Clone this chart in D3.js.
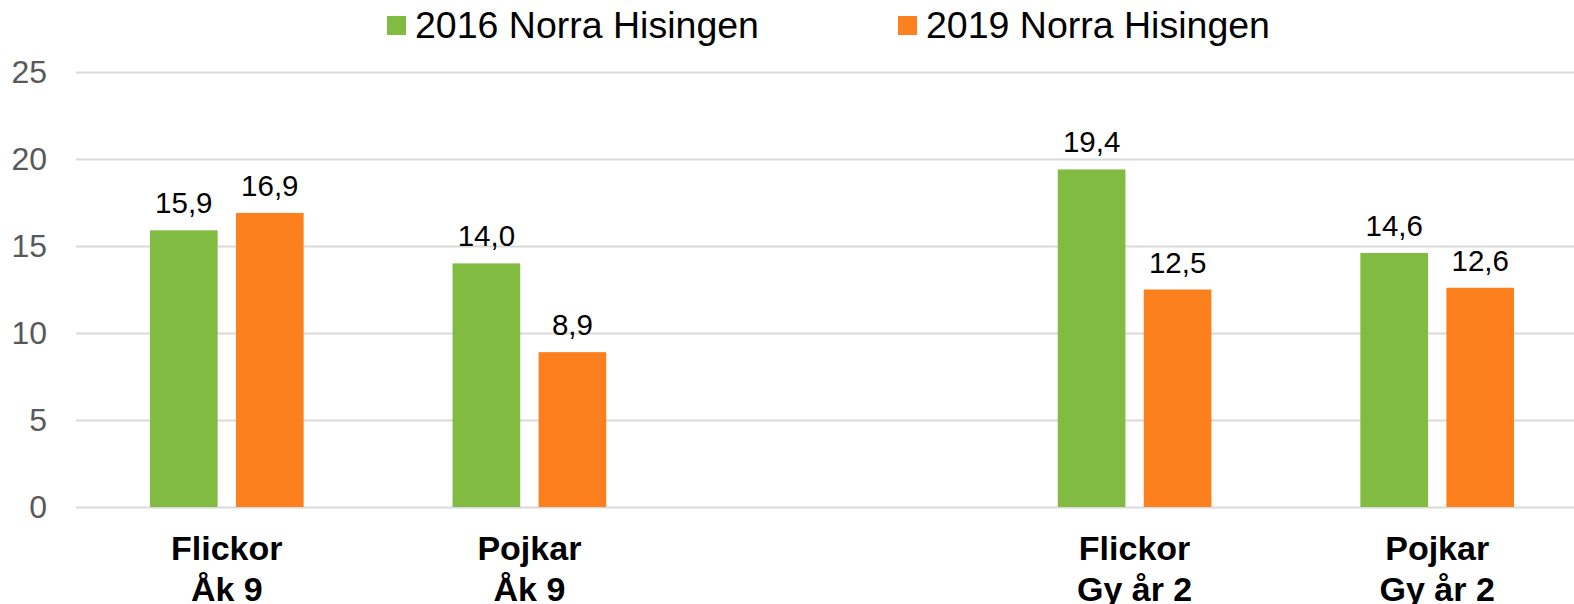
<!DOCTYPE html>
<html>
<head>
<meta charset="utf-8">
<script src="https://cdn.jsdelivr.net/npm/d3@7"></script>
<style>
  body { margin: 0; background: #fff; }
  svg { display: block; font-family: "Liberation Sans", Arial, sans-serif; }
</style>
</head>
<body>
<div id="chart"></div>
<script>
// data
const catLine1 = ["Flickor", "Pojkar", "", "Flickor", "Pojkar"];
const catLine2 = ["Åk 9", "Åk 9", "", "Gy år 2", "Gy år 2"];
const seriesNames = ["2016 Norra Hisingen", "2019 Norra Hisingen"];
const values2016 = [15.9, 14.0, null, 19.4, 14.6];
const values2019 = [16.9, 8.9, null, 12.5, 12.6];
const yTicks = [0, 5, 10, 15, 20, 25];
const colors = ["#82bb42", "#fd801e"];

const W = 1574, H = 604;
const plot = {left: 75.5, right: 1588.5, top: 72, bottom: 507};

const sv = d3.formatLocale({decimal: ",", thousands: " ", grouping: [3], currency: ["", " kr"]});
const fmt = sv.format(".1f");

const rows = catLine1.map((c, i) => ({
  key: i,
  l1: c,
  l2: catLine2[i],
  vals: [values2016[i], values2019[i]]
}));

let svg = d3.select("#chart")
  .append("svg")
  .attr("width", W)
  .attr("height", H);

let x0 = d3.scaleBand()
  .domain(rows.map(d => d.key))
  .range([plot.left, plot.right])
  .padding(0);

let x1 = d3.scaleBand()
  .domain([0, 1])
  .range([0, x0.bandwidth()])
  .paddingInner(0.213)
  .paddingOuter(0.866);

let y = d3.scaleLinear()
  .domain([0, 25])
  .range([plot.bottom, plot.top]);

// gridlines + y labels
let yAxis = svg.append("g")
  .attr("transform", "translate(76,0)")
  .call(d3.axisLeft(y)
    .tickValues(yTicks)
    .tickSize(-(W - 76))
    .tickPadding(29)
    .tickFormat(d3.format("d")));
yAxis.select(".domain").remove();
yAxis.selectAll(".tick line")
  .attr("stroke", "#d9d9d9")
  .attr("stroke-width", 2);
yAxis.selectAll(".tick text")
  .attr("fill", "#595959")
  .style("font-size", "32px");

// bars
let groups = svg.append("g")
  .selectAll("g")
  .data(rows.filter(d => d.l1 !== ""))
  .join("g")
  .attr("transform", d => "translate(" + x0(d.key) + ",0)");

let cells = groups.selectAll("g")
  .data(d => d.vals.map((v, j) => ({v: v, j: j})))
  .join("g");

cells.append("rect")
  .attr("x", d => x1(d.j))
  .attr("y", d => y(d.v))
  .attr("width", x1.bandwidth())
  .attr("height", d => y(0) - y(d.v))
  .attr("fill", d => colors[d.j]);

cells.append("text")
  .attr("x", d => x1(d.j) + x1.bandwidth() / 2)
  .attr("y", d => y(d.v) - 17)
  .attr("text-anchor", "middle")
  .attr("fill", "#000")
  .style("font-size", "29.5px")
  .text(d => fmt(d.v));

// category labels (second line runs off the bottom edge, as in the original)
let cat = svg.append("g")
  .selectAll("text")
  .data(rows)
  .join("text")
  .attr("x", d => x0(d.key) + x0.bandwidth() / 2)
  .attr("y", 560)
  .attr("text-anchor", "middle")
  .attr("fill", "#000")
  .style("font-size", "34px")
  .style("font-weight", "bold");
cat.append("tspan").text(d => d.l1);
cat.append("tspan")
  .attr("x", d => x0(d.key) + x0.bandwidth() / 2)
  .attr("dy", 41)
  .text(d => d.l2);

// legend
const legendX = [387, 898];
let leg = svg.append("g")
  .selectAll("g")
  .data(seriesNames)
  .join("g")
  .attr("transform", (d, i) => "translate(" + legendX[i] + ",16)");
leg.append("rect")
  .attr("width", 19)
  .attr("height", 19)
  .attr("fill", (d, i) => colors[i]);
leg.append("text")
  .attr("x", 28)
  .attr("y", 22)
  .attr("fill", "#000")
  .style("font-size", "37.5px")
  .text(d => d);
</script>
</body>
</html>
